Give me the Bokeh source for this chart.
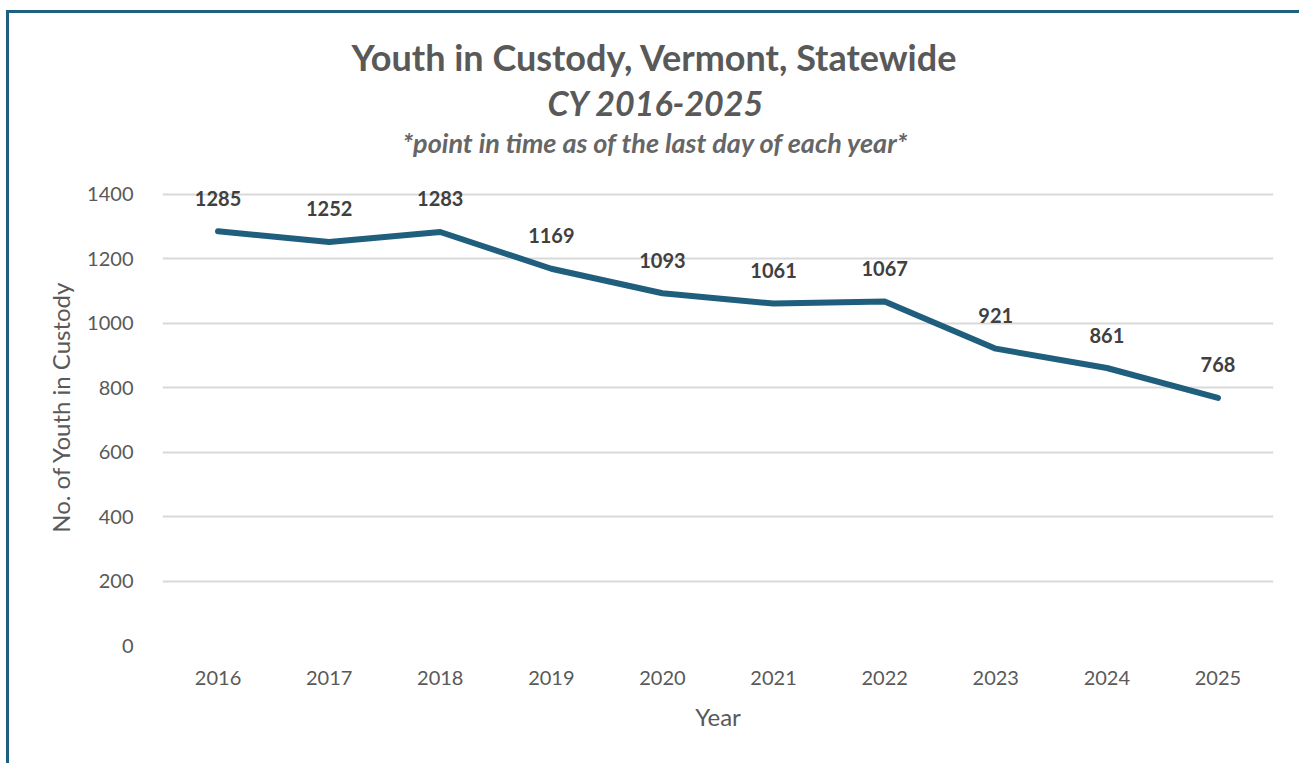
from bokeh.plotting import figure
from bokeh.models import Title, FixedTicker, ColumnDataSource
from bokeh.core.properties import value
from bokeh.embed import file_html
from bokeh.resources import INLINE

years = ["2016", "2017", "2018", "2019", "2020", "2021", "2022", "2023", "2024", "2025"]
youth = [1285, 1252, 1283, 1169, 1093, 1061, 1067, 921, 861, 768]
labels = [str(v) for v in youth]
y_ticks = [0, 200, 400, 600, 800, 1000, 1200, 1400]

FONT = "Lato"
GRAY = "#595959"
LINE = "#1f5f7d"

src = ColumnDataSource(dict(x=years, y=youth, t=labels))

p = figure(x_range=years, y_range=(0, 1480), width=1293, height=753,
           output_backend="svg", toolbar_location=None,
           min_border_left=153, min_border_right=29, min_border_bottom=121, min_border_top=155)
p.styles = {"border-left": "3px solid #1f5f80", "border-top": "3px solid #1f5f80",
            "margin-left": "6px", "margin-top": "10px"}

p.line("x", "y", source=src, line_color=LINE, line_width=6, line_join="round", line_cap="round")
p.text("x", "y", text="t", source=src, y_offset=-33, text_align="center", text_baseline="middle",
       text_font=value(FONT), text_font_style="bold", text_font_size="20px", text_color="#404040")

p.outline_line_color = None
p.background_fill_color = "white"
p.border_fill_color = "white"
p.xgrid.grid_line_color = None
p.ygrid.grid_line_color = "#d9d9d9"
p.ygrid.grid_line_width = 2

p.yaxis.ticker = FixedTicker(ticks=y_ticks)
for ax in (p.xaxis[0], p.yaxis[0]):
    ax.axis_line_color = None
    ax.major_tick_line_color = None
    ax.minor_tick_line_color = None
    ax.major_tick_out = 0
    ax.major_tick_in = 0
    ax.major_label_text_font = FONT
    ax.major_label_text_font_size = "20px"
    ax.major_label_text_color = GRAY
    ax.axis_label_text_font = FONT
    ax.axis_label_text_font_size = "24px"
    ax.axis_label_text_color = GRAY
    ax.axis_label_text_font_style = "normal"

p.xaxis.axis_label = "Year"
p.xaxis.major_label_standoff = 25
p.xaxis.axis_label_standoff = 14
p.yaxis.axis_label = "No. of Youth in Custody"
p.yaxis.major_label_standoff = 29
p.yaxis.axis_label_standoff = 9

spacer = Title(text=" ", text_font_size="1px", standoff=5)
sub = Title(text="*point in time as of the last day of each year*", align="left", offset=240,
            text_font=FONT, text_font_size="27px", text_font_style="bold italic", text_color="#666666",
            standoff=3)
cy = Title(text="CY 2016-2025", align="left", offset=385, standoff=0,
           text_font=FONT, text_font_size="34px", text_font_style="bold italic", text_color=GRAY)
main = Title(text="Youth in Custody, Vermont, Statewide", align="left", offset=189, standoff=1,
             text_font=FONT, text_font_size="36px", text_font_style="bold", text_color=GRAY)
p.add_layout(spacer, "above")
p.add_layout(sub, "above")
p.add_layout(cy, "above")
p.add_layout(main, "above")

open("out.html", "w").write(file_html(p, INLINE))
